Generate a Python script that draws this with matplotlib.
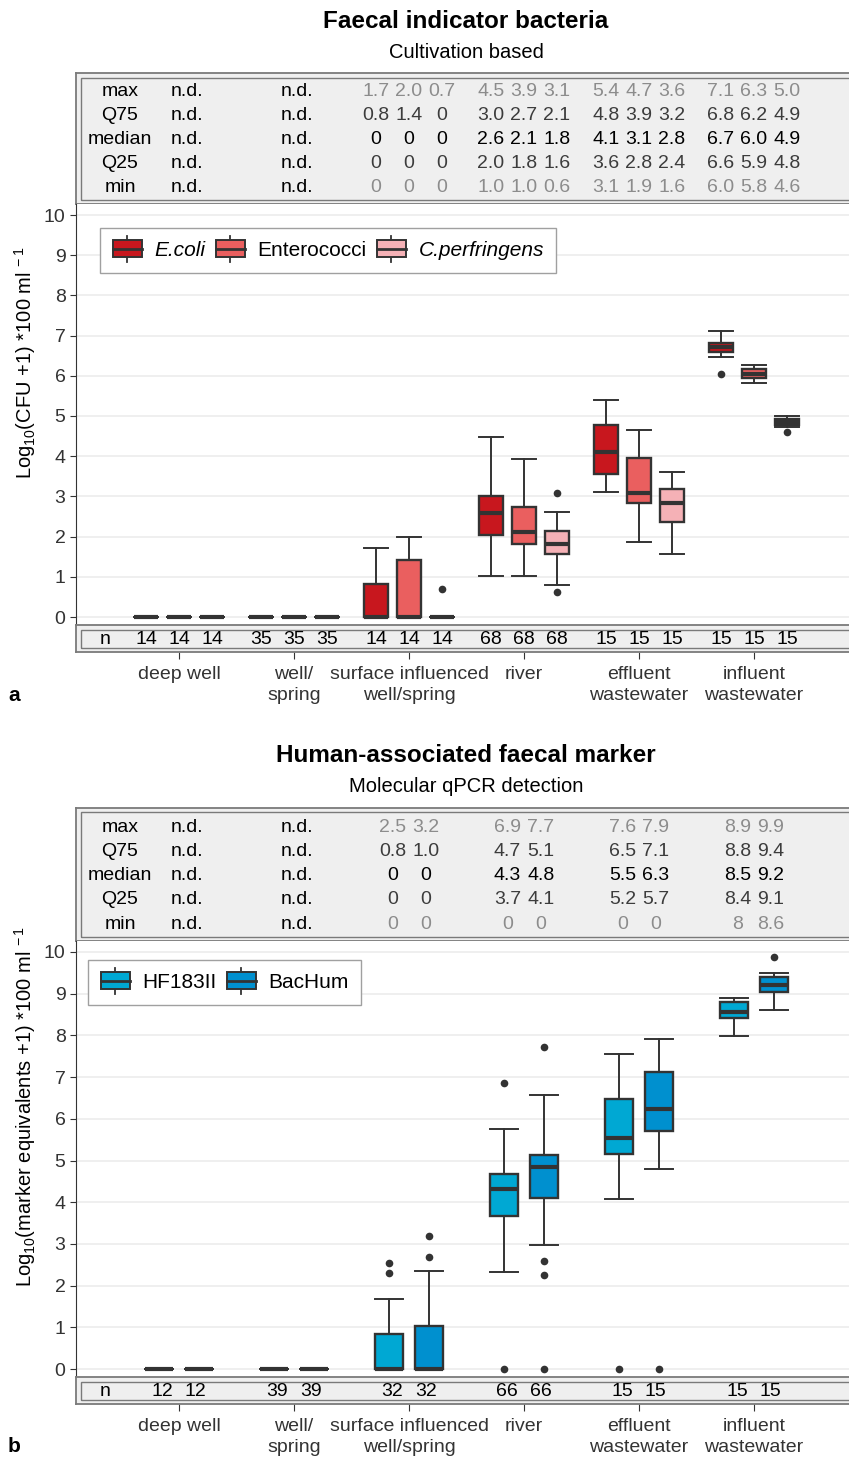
import numpy as np
import matplotlib.pyplot as plt
from matplotlib.patches import Rectangle
from matplotlib.lines import Line2D
from matplotlib.legend_handler import HandlerBase

plt.rcParams['font.family'] = ['Liberation Sans', 'DejaVu Sans']
plt.rcParams['mathtext.default'] = 'regular'

# categories (x axis)
sites = ['deep well', 'well/\nspring', 'surface influenced\nwell/spring', 'river',
         'effluent\nwastewater', 'influent\nwastewater']

# ---- panel a: cultivation based, log10(CFU+1) per 100 ml ----
fib_names = ['E.coli', 'Enterococci', 'C.perfringens']
fib_colors = ['#c8171e', '#ea5f5f', '#f5b1b6']
fib_n = [14, 35, 14, 68, 15, 15]

ecoli_q1 = [0, 0, 0, 2.04, 3.56, 6.60]
ecoli_med = [0, 0, 0, 2.59, 4.10, 6.72]
ecoli_q3 = [0, 0, 0.82, 3.00, 4.77, 6.82]
ecoli_lo = [0, 0, 0, 1.01, 3.12, 6.47]
ecoli_hi = [0, 0, 1.72, 4.47, 5.39, 7.11]
ecoli_out = [[], [], [], [], [], [6.05]]

entero_q1 = [0, 0, 0, 1.82, 2.84, 5.95]
entero_med = [0, 0, 0, 2.12, 3.08, 6.05]
entero_q3 = [0, 0, 1.42, 2.73, 3.95, 6.18]
entero_lo = [0, 0, 0, 1.01, 1.86, 5.82]
entero_hi = [0, 0, 1.99, 3.93, 4.66, 6.27]
entero_out = [[], [], [], [], [], []]

cperf_q1 = [0, 0, 0, 1.57, 2.36, 4.78]
cperf_med = [0, 0, 0, 1.82, 2.83, 4.85]
cperf_q3 = [0, 0, 0, 2.14, 3.19, 4.92]
cperf_lo = [0, 0, 0, 0.79, 1.57, 4.73]
cperf_hi = [0, 0, 0, 2.61, 3.60, 5.00]
cperf_out = [[], [], [0.70], [3.08, 0.61], [], [4.60]]

# summary table a (groups 3-6, three bacteria each)
tab_a_max = [['1.7', '2.0', '0.7'], ['4.5', '3.9', '3.1'], ['5.4', '4.7', '3.6'], ['7.1', '6.3', '5.0']]
tab_a_q75 = [['0.8', '1.4', '0'], ['3.0', '2.7', '2.1'], ['4.8', '3.9', '3.2'], ['6.8', '6.2', '4.9']]
tab_a_med = [['0', '0', '0'], ['2.6', '2.1', '1.8'], ['4.1', '3.1', '2.8'], ['6.7', '6.0', '4.9']]
tab_a_q25 = [['0', '0', '0'], ['2.0', '1.8', '1.6'], ['3.6', '2.8', '2.4'], ['6.6', '5.9', '4.8']]
tab_a_min = [['0', '0', '0'], ['1.0', '1.0', '0.6'], ['3.1', '1.9', '1.6'], ['6.0', '5.8', '4.6']]

# ---- panel b: qPCR, log10(marker equivalents+1) per 100 ml ----
mst_names = ['HF183II', 'BacHum']
mst_colors = ['#00a8d3', '#0090cf']
mst_n = [12, 39, 32, 66, 15, 15]

hf_q1 = [0, 0, 0, 3.66, 5.16, 8.42]
hf_med = [0, 0, 0, 4.31, 5.53, 8.55]
hf_q3 = [0, 0, 0.85, 4.67, 6.48, 8.80]
hf_lo = [0, 0, 0, 2.33, 4.08, 7.98]
hf_hi = [0, 0, 1.68, 5.75, 7.56, 8.90]
hf_out = [[], [], [2.31, 2.53], [0, 6.87], [0], []]

bac_q1 = [0, 0, 0, 4.11, 5.70, 9.05]
bac_med = [0, 0, 0, 4.84, 6.24, 9.22]
bac_q3 = [0, 0, 1.03, 5.13, 7.12, 9.40]
bac_lo = [0, 0, 0, 2.97, 4.80, 8.61]
bac_hi = [0, 0, 2.35, 6.57, 7.91, 9.50]
bac_out = [[], [], [2.69, 3.19], [0, 2.25, 2.59, 7.73], [0], [9.88]]

tab_b_max = [['2.5', '3.2'], ['6.9', '7.7'], ['7.6', '7.9'], ['8.9', '9.9']]
tab_b_q75 = [['0.8', '1.0'], ['4.7', '5.1'], ['6.5', '7.1'], ['8.8', '9.4']]
tab_b_med = [['0', '0'], ['4.3', '4.8'], ['5.5', '6.3'], ['8.5', '9.2']]
tab_b_q25 = [['0', '0'], ['3.7', '4.1'], ['5.2', '5.7'], ['8.4', '9.1']]
tab_b_min = [['0', '0'], ['0', '0'], ['0', '0'], ['8', '8.6']]

row_names = ['max', 'Q75', 'median', 'Q25', 'min']
row_colors = ['#8c8c8c', '#3c3c3c', '#000000', '#3c3c3c', '#8c8c8c']

EDGE = '#333333'
W, H = 849, 1458
fig = plt.figure(figsize=(W / 100, H / 100), dpi=100)

# x pixel = 64 + 115 * position ; axes run from pixel 76 to past the right edge
X0, X1 = 76, 860
XLIM = ((X0 - 64) / 115, (X1 - 64) / 115)
pos = np.arange(1, 7)


def px_axes(x0, y0, x1, y1):
    return fig.add_axes([x0 / W, 1 - y1 / H, (x1 - x0) / W, (y1 - y0) / H])


def framed(y0, y1):
    # grey strip with a double border, y in figure pixels
    t = px_axes(X0, y0, X1, y1)
    t.set_xlim(*XLIM)
    t.set_ylim(y1, y0)
    t.set_facecolor('#efefef')
    t.set_xticks([])
    t.set_yticks([])
    for s in t.spines.values():
        s.set_color('#7a7a7a')
        s.set_linewidth(1.3)
    dx, dy = 4.5 / (X1 - X0), 4.5 / (y1 - y0)
    t.add_patch(Rectangle((dx, dy), 1 - 2 * dx, 1 - 2 * dy, transform=t.transAxes,
                          fill=False, edgecolor='#7a7a7a', lw=1.0))
    return t


class BoxHandler(HandlerBase):
    def create_artists(self, legend, orig_handle, xdescent, ydescent, width, height, fontsize, trans):
        x0, y0 = -xdescent, -ydescent
        cx = x0 + width / 2
        v = Line2D([cx, cx], [y0 - 0.3 * height, y0 + 1.3 * height], color=EDGE, lw=1.3, transform=trans)
        r = Rectangle((x0, y0), width, height, facecolor=orig_handle.get_facecolor(),
                      edgecolor=EDGE, lw=1.4, transform=trans)
        m = Line2D([x0, x0 + width], [y0 + height / 2] * 2, color=EDGE, lw=2, transform=trans)
        return [v, r, m]


def box_series(ax, q1, med, q3, lo, hi, out, x, w, color):
    st = [dict(q1=a, med=b, q3=c, whislo=d, whishi=e, fliers=f)
          for a, b, c, d, e, f in zip(q1, med, q3, lo, hi, out)]
    ax.bxp(st, positions=x, widths=w, capwidths=w, patch_artist=True, manage_ticks=False,
           boxprops=dict(facecolor=color, edgecolor=EDGE, linewidth=1.7),
           medianprops=dict(color=EDGE, linewidth=3.0),
           whiskerprops=dict(color=EDGE, linewidth=1.4),
           capprops=dict(color=EDGE, linewidth=1.4),
           flierprops=dict(marker='o', markerfacecolor=EDGE, markeredgecolor='none', markersize=5.5))


def panel(title, subtitle, ty, tab_y, rows_y, main_y, n_y, ylab, y0px, y10px,
          series, names, colors, tables, n_counts, offs, toffs, leg_xy, letter, letter_y):
    fig.text(466 / W, 1 - ty / H, title, ha='center', va='center', fontsize=17.5, fontweight='bold')
    fig.text(466 / W, 1 - (ty + 31) / H, subtitle, ha='center', va='center', fontsize=14.5)

    # summary table
    t = framed(*tab_y)
    for i, (nm, col) in enumerate(zip(row_names, row_colors)):
        yy = rows_y[i]
        t.text((120 - 64) / 115, yy, nm, ha='center', va='center', fontsize=14)
        t.text(1.07, yy, 'n.d.', ha='center', va='center', fontsize=14)
        t.text(2.03, yy, 'n.d.', ha='center', va='center', fontsize=14)
        for g, vals in enumerate(tables[i]):
            for k, v in enumerate(vals):
                t.text(pos[g + 2] + toffs[k], yy, v, ha='center', va='center', fontsize=14, color=col)

    # boxplots
    ax = px_axes(X0, main_y[0], X1, main_y[1])
    per = (y0px - y10px) / 10
    ax.set_xlim(*XLIM)
    ax.set_ylim(-(main_y[1] - y0px) / per, 10 + (y10px - main_y[0]) / per)
    ax.set_yticks(range(11))
    ax.set_xticks([])
    ax.grid(axis='y', color='#ebebeb', lw=1.1)
    ax.set_axisbelow(True)
    for s in ['top', 'right', 'bottom']:
        ax.spines[s].set_visible(False)
    ax.spines['left'].set_color(EDGE)
    ax.tick_params(axis='y', length=4, color=EDGE, labelsize=14, labelcolor='#333333')
    handles = []
    for k, (s, c) in enumerate(zip(series, colors)):
        box_series(ax, *s, pos + offs[k], 0.205 if len(series) == 3 else 0.25, c)
        handles.append(Rectangle((0, 0), 1, 1, facecolor=c))
    leg = ax.legend(handles, names, handler_map={Rectangle: BoxHandler()},
                    loc='upper left', bbox_to_anchor=(leg_xy[0] / W, 1 - leg_xy[1] / H),
                    bbox_transform=fig.transFigure, ncol=len(names), fontsize=15,
                    frameon=True, fancybox=False, edgecolor='#a0a0a0', framealpha=1,
                    handlelength=1.4, handleheight=0.85, handletextpad=0.6, columnspacing=0.5,
                    borderpad=0.6, borderaxespad=0)
    leg.get_frame().set_linewidth(1.0)
    for txt in leg.get_texts():
        if txt.get_text() in ('E.coli', 'C.perfringens'):
            txt.set_style('italic')

    # n row with category labels
    nax = framed(*n_y)
    ym = (n_y[0] + n_y[1]) / 2 + 1
    nax.text((105 - 64) / 115, ym, 'n', ha='center', va='center', fontsize=14)
    for g, cnt in enumerate(n_counts):
        for k in range(len(series)):
            nax.text(pos[g] + toffs[k], ym, str(cnt), ha='center', va='center', fontsize=14)
    nax.set_xticks(pos)
    nax.set_xticklabels(sites, fontsize=14, color='#333333', linespacing=1.3)
    nax.tick_params(axis='x', length=5, color=EDGE, pad=5)

    fig.text(25 / W, 1 - ((tab_y[0] + n_y[1]) / 2) / H, ylab, rotation=90,
             ha='center', va='center', fontsize=14.5)
    fig.text(14 / W, 1 - letter_y / H, letter, ha='center', va='center', fontsize=15, fontweight='bold')


panel('Faecal indicator bacteria', 'Cultivation based', 22, (73, 204), [91, 115, 139, 163, 188],
      (204, 625), (625, 652),
      'Log$_{10}$(CFU +1) *100 ml$^{\\,-1}$', 617, 215,
      [(ecoli_q1, ecoli_med, ecoli_q3, ecoli_lo, ecoli_hi, ecoli_out),
       (entero_q1, entero_med, entero_q3, entero_lo, entero_hi, entero_out),
       (cperf_q1, cperf_med, cperf_q3, cperf_lo, cperf_hi, cperf_out)],
      fib_names, fib_colors, [tab_a_max, tab_a_q75, tab_a_med, tab_a_q25, tab_a_min],
      fib_n, [-0.287, 0, 0.287], [-0.287, 0, 0.287], (100, 228), 'a', 695)

panel('Human-associated faecal marker', 'Molecular qPCR detection', 755, (808, 941),
      [827, 851, 875, 899, 924], (941, 1377), (1377, 1404),
      'Log$_{10}$(marker equivalents +1) *100 ml$^{\\,-1}$', 1369, 952,
      [(hf_q1, hf_med, hf_q3, hf_lo, hf_hi, hf_out),
       (bac_q1, bac_med, bac_q3, bac_lo, bac_hi, bac_out)],
      mst_names, mst_colors, [tab_b_max, tab_b_q75, tab_b_med, tab_b_q25, tab_b_min],
      mst_n, [-0.174, 0.174], [-0.145, 0.145], (88, 960), 'b', 1447)

fig.savefig('out.png', dpi=100)
